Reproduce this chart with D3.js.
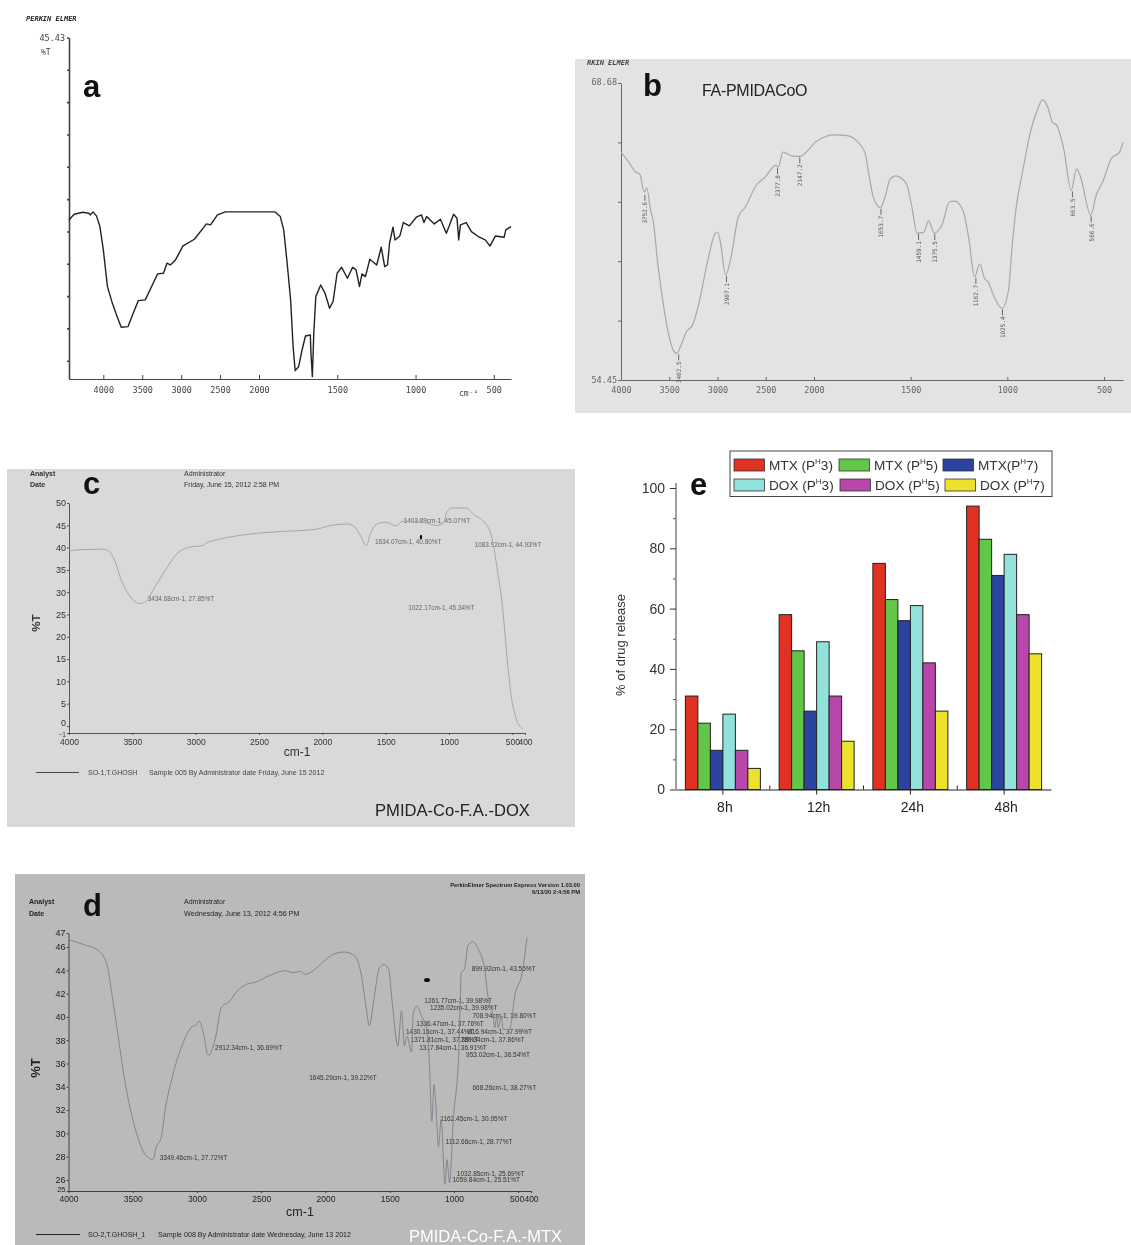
<!DOCTYPE html>
<html>
<head>
<meta charset="utf-8">
<title>FTIR spectra and drug release</title>
<script src="https://cdn.jsdelivr.net/npm/d3@7"></script>
<style>
    html, body { margin: 0; padding: 0; background: #fff; }
    svg { display: block; font-family: "Liberation Sans", Arial, sans-serif; }
    .dot-font text { font-family: "DejaVu Sans Mono", monospace; }
</style>
</head>
<body>
<div id="chart"></div>
<script>
// Panel a: FTIR spectrum
const aWave = [4441,4375,4265,4185,4168,4132,4088,4044,4000,3947,3890,3823,3770,3682,3625,3550,3461,3360,3302,3227,3183,3139,3073,2976,2830,2675,2623,2534,2433,1897,1864,1842,1820,1798,1782,1769,1747,1725,1703,1672,1668,1659,1650,1637,1606,1578,1549,1527,1501,1472,1435,1402,1380,1358,1342,1320,1292,1248,1219,1197,1179,1166,1144,1131,1100,1078,1039,995,962,946,929,880,841,803,786,757,735,724,713,676,643,599,555,524,489,434,423,390];
const aT = [21.16,21.92,22.19,22.05,21.83,22.23,21.70,20.28,17.17,12.29,10.29,8.30,6.88,6.97,8.52,10.43,10.52,12.73,13.98,14.07,15.40,15.17,15.84,17.70,18.59,20.63,20.50,21.83,22.23,22.23,21.61,19.83,15.40,10.52,4.30,1.11,1.64,3.86,5.72,5.86,3.42,0.31,6.08,10.96,12.51,11.40,9.41,10.29,14.07,14.86,13.40,14.86,14.51,12.29,13.98,13.62,15.93,15.17,17.53,14.95,15.17,18.06,20.19,18.50,19.03,20.81,20.37,21.52,21.83,20.81,21.61,20.63,21.25,19.39,20.28,21.92,21.39,18.50,20.50,20.81,19.61,18.95,18.50,17.70,19.03,18.86,19.83,20.28];

// Panel b: FA-PMIDA-Co-O spectrum
const bWave = [4000,3952,3896,3859,3804,3759,3733,3693,3667,3619,3563,3508,3459,3422,3378,3322,3259,3193,3100,3026,3000,2970,2915,2859,2785,2711,2600,2507,2396,2370,2322,2230,2148,2063,1994,1948,1902,1828,1781,1735,1717,1693,1656,1633,1606,1578,1522,1494,1467,1433,1407,1378,1337,1300,1272,1230,1198,1170,1143,1118,1100,1068,1028,994,976,954,920,883,846,818,791,767,744,707,670,642,624,568,541,504,463,420,402];
const bT = [65.37,65.09,64.73,64.46,64.30,63.45,63.66,62.58,62.10,60.03,58.12,56.68,55.88,55.72,56.12,56.76,57.08,58.12,60.19,61.46,61.54,61.06,59.47,60.35,62.26,62.74,63.77,64.17,64.73,64.65,65.37,65.19,65.16,65.45,65.84,66.08,66.19,66.16,65.92,65.29,64.33,63.21,62.70,63.21,64.09,64.23,63.85,62.74,61.49,61.52,62.07,61.49,61.91,62.98,63.02,62.58,61.14,59.39,60.00,59.31,59.15,58.43,57.88,58.75,60.82,62.74,64.49,66.24,67.36,67.87,67.52,66.80,66.64,65.45,63.53,64.57,64.25,62.34,63.29,64.01,65.05,65.37,65.84];
const bPeakWave = [3752.6,3402.5,2907.1,2377.8,2147.2,1653.7,1459.1,1375.5,1162.7,1025.4,663.5,566.6];
const bPeakT = [63.37,55.72,59.47,64.65,65.16,62.70,61.49,61.49,59.39,57.88,63.53,62.34];

// Panel c: PMIDA-Co-F.A.-DOX spectrum
const cWave = [4000,3875,3729,3685,3641,3583,3525,3481,3437,3393,3335,3247,3145,3058,2947,2912,2824,2737,2562,2329,2066,1920,1803,1745,1701,1652,1620,1570,1497,1418,1366,1249,1103,1045,1016,972,870,797,724,666,622,578,535,505,476,418];
const cT = [39.29,39.58,39.66,39.21,37.20,32.37,29.39,27.90,27.46,27.90,30.51,34.60,38.69,40.03,40.48,41.07,41.82,42.34,43.08,43.60,44.05,45.01,45.31,44.64,42.78,40.48,43.15,45.24,45.68,44.87,45.91,45.91,45.01,45.39,47.99,48.88,48.88,47.25,45.76,42.78,35.71,26.79,13.39,5.95,2.23,-0.45];
const cLabels = ["3434.68cm-1, 27.85%T","1634.07cm-1, 40.80%T","1403.89cm-1, 45.07%T","1083.92cm-1, 44.93%T","1022.17cm-1, 45.34%T"];
const cLabelWave = [3379,1585,1357,797,1322];
const cLabelT = [28.42,41.15,45.91,40.55,26.56];

// Panel d: PMIDA-Co-F.A.-MTX spectrum
const dWave = [4000,3879,3764,3701,3664,3621,3563,3506,3463,3419,3376,3342,3319,3276,3247,3190,3118,3046,3003,2983,2954,2911,2859,2810,2744,2687,2615,2543,2414,2313,2255,2198,2155,2083,2011,1939,1853,1767,1724,1681,1658,1623,1580,1543,1508,1480,1436,1408,1385,1365,1330,1316,1284,1264,1206,1192,1172,1155,1143,1120,1100,1069,1054,1034,1005,962,942,919,890,856,810,761,732,695,683,666,655,632,617,568,522,474,431];
const dT = [46.52,46.17,45.66,44.51,42.07,38.92,34.62,31.47,29.75,28.46,27.89,27.75,28.75,29.75,32.05,34.91,37.49,39.07,39.35,39.64,38.78,36.69,38.06,40.79,41.36,42.22,42.79,42.99,43.65,43.97,43.79,43.91,43.65,44.08,44.80,45.37,45.57,45.17,43.79,40.64,39.21,41.50,44.22,44.51,44.08,41.21,37.49,40.50,37.49,38.35,36.97,40.36,40.93,40.36,38.64,36.34,31.04,34.19,32.90,28.89,31.19,25.60,27.75,25.74,31.19,36.92,43.79,44.08,46.09,46.37,45.80,44.08,41.50,40.07,39.07,40.07,39.07,40.07,38.92,38.92,42.07,43.51,46.66];
const dLabels = ["3349.46cm-1, 27.72%T","2912.34cm-1, 36.69%T","1645.29cm-1, 39.22%T","1261.77cm-1, 39.98%T","1235.02cm-1, 39.98%T","708.94cm-1, 39.80%T","1336.47cm-1, 37.76%T","1430.15cm-1, 37.44%T","816.94cm-1, 37.99%T","1371.81cm-1, 37.35%T","780.34cm-1, 37.86%T","1317.84cm-1, 36.91%T","953.02cm-1, 36.54%T","668.26cm-1, 38.27%T","1162.45cm-1, 30.95%T","1112.66cm-1, 28.77%T","1032.85cm-1, 25.69%T","1059.84cm-1, 25.51%T","899.92cm-1, 43.55%T"];
const dLabelWave = [3290,2859,2126,1230,1186,856,1293,1373,890,1336,948,1270,905,856,1106,1063,977,1011,862];
const dLabelT = [27.86,37.32,34.77,41.36,40.73,40.07,39.38,38.69,38.69,38.06,38.06,37.35,36.69,33.91,31.24,29.24,26.52,25.97,44.08];

// Panel e: drug release
const hours = ["8h","12h","24h","48h"];
const seriesStart = ["MTX (P","MTX (P","MTX(P","DOX (P","DOX (P","DOX (P"];
const seriesEnd = ["3)","5)","7)","3)","5)","7)"];
const seriesColors = ["#e03222","#62c748","#2c449f","#92e1da","#b748aa","#ece22e"];
const mtx3 = [31,58,75,94];
const mtx5 = [22,46,63,83];
const mtx7 = [13,26,56,71];
const dox3 = [25,49,61,78];
const dox5 = [13,31,42,58];
const dox7 = [7,16,26,45];
const releaseSeries = [mtx3,mtx5,mtx7,dox3,dox5,dox7];

const svg = d3.select("#chart").append("svg")
    .attr("width", 1131)
    .attr("height", 1245);

svg.append("rect").attr("width", 1131).attr("height", 1245).attr("fill", "#fff");

// The spectra are scans, so they get a little blur
svg.append("defs").append("filter").attr("id", "scan")
    .attr("x", "-2%").attr("y", "-2%").attr("width", "104%").attr("height", "104%")
    .append("feGaussianBlur").attr("stdDeviation", 0.45);

const scan = svg.append("g").attr("filter", "url(#scan)");

function putText(parent, x, y, str, size, opts = {}) {
    return parent.append("text")
        .attr("x", x)
        .attr("y", y)
        .attr("font-size", size)
        .attr("fill", opts.fill || "#222")
        .attr("font-weight", opts.weight || "normal")
        .attr("text-anchor", opts.anchor || "start")
        .attr("transform", opts.rotate ? `rotate(${opts.rotate} ${x} ${y})` : null)
        .text(str);
}

function drawTrace(parent, x, y, waves, values, color, width, curve) {
    const line = d3.line()
        .x((d, i) => x(waves[i]))
        .y(d => y(d))
        .curve(curve);
    parent.append("path")
        .attr("d", line(values))
        .attr("fill", "none")
        .attr("stroke", color)
        .attr("stroke-width", width)
        .attr("stroke-linejoin", "round");
}

function styleAxis(g, color, width) {
    g.selectAll("path, line").attr("stroke", color).attr("stroke-width", width);
    g.selectAll("text").attr("fill", color);
    g.attr("font-family", null);
}

// ---------- Panel a ----------
function drawA() {
    const g = scan.append("g").attr("class", "dot-font");
    const x = d3.scaleLinear().domain([4441, 2000, 390]).range([69, 259, 511]);
    const y = d3.scaleLinear().domain([0, 45.43]).range([379, 37.5]);

    const xAxis = d3.axisBottom(x).tickValues([4000,3500,3000,2500,2000,1500,1000,500])
        .tickSizeInner(-4).tickSizeOuter(0).tickPadding(8).tickFormat(d3.format("d"));
    const xg = g.append("g").attr("transform", "translate(0,379)").call(xAxis).attr("font-size", 8.5);
    styleAxis(xg, "#444", 1);

    const yAxis = d3.axisLeft(y).tickValues(d3.range(45.43, 0, -4.3))
        .tickSize(2).tickSizeOuter(0).tickPadding(2).tickFormat(d => d === 45.43 ? "45.43" : "");
    const yg = g.append("g").attr("transform", "translate(69,0)").call(yAxis).attr("font-size", 8.5);
    styleAxis(yg, "#444", 1.6);

    putText(g, 459, 396, "cm⁻¹", 8, { fill: "#444" });
    putText(g, 41, 55, "%T", 8, { fill: "#444" });
    putText(g, 26, 21, "PERKIN ELMER", 7, { weight: "bold" }).attr("font-style", "italic");

    drawTrace(g, x, y, aWave, aT, "#222", 1.4, d3.curveLinear);
}

// ---------- Panel b ----------
function drawB() {
    const g = scan.append("g").attr("class", "dot-font");
    g.append("rect").attr("x", 575).attr("y", 59).attr("width", 556).attr("height", 354).attr("fill", "#e3e3e3");

    const x = d3.scaleLinear().domain([4000, 2000, 402]).range([621, 814, 1123]);
    const y = d3.scaleLinear().domain([54.45, 68.68]).range([380, 83]);

    const xAxis = d3.axisBottom(x).tickValues([4000,3500,3000,2500,2000,1500,1000,500])
        .tickSizeInner(-3).tickSizeOuter(0).tickPadding(7).tickFormat(d3.format("d"));
    const xg = g.append("g").attr("transform", "translate(0,380)").call(xAxis).attr("font-size", 8.5);
    styleAxis(xg, "#666", 1);

    const yAxis = d3.axisLeft(y).tickValues(d3.range(0, 6).map(i => 54.45 + i * 2.846))
        .tickSize(3).tickSizeOuter(0).tickPadding(1)
        .tickFormat(d => d === 54.45 ? "54.45" : "");
    const yg = g.append("g").attr("transform", "translate(621,0)").call(yAxis).attr("font-size", 8.5);
    styleAxis(yg, "#666", 1);
    putText(g, 617, 85, "68.68", 8.5, { fill: "#666", anchor: "end" });
    putText(g, 587, 65, "RKIN ELMER", 7, { weight: "bold", fill: "#444" }).attr("font-style", "italic");

    drawTrace(g, x, y, bWave, bT, "#a8a8a8", 1.2, d3.curveMonotoneX);

    // Peak picks: short tick under the trough, then the value rotated
    bPeakWave.forEach((w, i) => {
        const px = x(w), py = y(bPeakT[i]);
        g.append("line").attr("x1", px).attr("x2", px).attr("y1", py + 1).attr("y2", py + 7)
            .attr("stroke", "#666");
        putText(g, px + 2.5, py + 8, d3.format(".1f")(w), 6, { fill: "#555", anchor: "end", rotate: -90 });
    });
}

// ---------- Panel c ----------
function drawC() {
    const g = scan.append("g");
    g.append("rect").attr("x", 7).attr("y", 469).attr("width", 568).attr("height", 358).attr("fill", "#d9d9d9");

    const x = d3.scaleLinear().domain([4000, 400]).range([69, 525]);
    const y = d3.scaleLinear().domain([-1, 0, 50]).range([733, 726, 503]);

    const xAxis = d3.axisBottom(x).tickValues([4000,3500,3000,2500,2000,1500,1000,500,400])
        .tickSize(2).tickSizeOuter(0).tickPadding(3.5).tickFormat(d3.format("d"));
    const xg = g.append("g").attr("transform", "translate(0,733)").call(xAxis).attr("font-size", 8.5);
    styleAxis(xg, "#333", 0.8);

    const yAxis = d3.axisLeft(y).tickValues([-1,0,5,10,15,20,25,30,35,40,45,50])
        .tickSize(2).tickSizeOuter(0).tickPadding(1).tickFormat(d3.format("d"));
    const yg = g.append("g").attr("transform", "translate(69,0)").call(yAxis).attr("font-size", 9);
    styleAxis(yg, "#333", 0.8);
    // the 0 and -1 labels are tight, as on the printout
    yg.selectAll(".tick text").filter(d => d === 0).attr("dy", "-0.1em");
    yg.selectAll(".tick text").filter(d => d === -1).attr("font-size", 6.5).attr("dy", "0.5em");

    putText(g, 30, 476, "Analyst", 7, { weight: "bold", fill: "#333" });
    putText(g, 30, 487, "Date", 7, { weight: "bold", fill: "#333" });
    putText(g, 184, 476, "Administrator", 7, { fill: "#333" });
    putText(g, 184, 487, "Friday, June 15, 2012 2:58 PM", 7, { fill: "#333" });
    putText(g, 40, 623, "%T", 11.5, { weight: "bold", anchor: "middle", rotate: -90, fill: "#333" });
    putText(g, 297, 756, "cm-1", 12, { anchor: "middle", fill: "#333" });

    g.append("line").attr("x1", 36).attr("x2", 79).attr("y1", 772.5).attr("y2", 772.5)
        .attr("stroke", "#444").attr("stroke-width", 1.2);
    putText(g, 88, 775, "SO-1,T.GHOSH", 7, { fill: "#444" });
    putText(g, 149, 775, "Sample 005 By Administrator date Friday, June 15 2012", 7.1, { fill: "#444" });

    cLabels.forEach((t, i) => {
        putText(g, x(cLabelWave[i]), y(cLabelT[i]) + 2, t, 6.4, { fill: "#666" });
    });
    g.append("ellipse").attr("cx", 421).attr("cy", 537).attr("rx", 1.2).attr("ry", 2.2).attr("fill", "#111");

    drawTrace(g, x, y, cWave, cT, "#a2a8a8", 1, d3.curveMonotoneX);
}

// ---------- Panel d ----------
function drawD() {
    const g = scan.append("g");
    g.append("rect").attr("x", 15).attr("y", 874).attr("width", 570).attr("height", 371).attr("fill", "#b9bbb9");

    const x = d3.scaleLinear().domain([4000, 400]).range([68.5, 531]);
    const y = d3.scaleLinear().domain([25, 26, 46, 47]).range([1191, 1180, 947, 933]);

    const xAxis = d3.axisBottom(x).tickValues([4000,3500,3000,2500,2000,1500,1000,500,400])
        .tickSize(2).tickSizeOuter(0).tickPadding(3).tickFormat(d3.format("d"));
    const xg = g.append("g").attr("transform", "translate(0,1191)").call(xAxis).attr("font-size", 8.5);
    styleAxis(xg, "#222", 0.8);
    xg.selectAll(".tick text").filter(d => d === 500).attr("dx", -1.5);

    const yAxis = d3.axisLeft(y).tickValues([25,26,28,30,32,34,36,38,40,42,44,46,47])
        .tickSize(2).tickSizeOuter(0).tickPadding(1).tickFormat(d3.format("d"));
    const yg = g.append("g").attr("transform", "translate(68.5,0)").call(yAxis).attr("font-size", 9);
    styleAxis(yg, "#222", 0.8);
    yg.selectAll(".tick text").filter(d => d === 25).attr("font-size", 7.5).attr("dy", "0.1em");

    putText(g, 29, 904, "Analyst", 7, { weight: "bold" });
    putText(g, 29, 916, "Date", 7, { weight: "bold" });
    putText(g, 184, 904, "Administrator", 7);
    putText(g, 184, 916, "Wednesday, June 13, 2012 4:56 PM", 7.2);
    putText(g, 580, 887, "PerkinElmer Spectrum Express Version 1.03.00", 5.8, { anchor: "end", weight: "bold" });
    putText(g, 580, 894, "6/13/20 2:4:56 PM", 5.8, { anchor: "end", weight: "bold" });
    putText(g, 40, 1068, "%T", 13, { weight: "bold", anchor: "middle", rotate: -90 });
    putText(g, 300, 1216, "cm-1", 12.5, { anchor: "middle" });

    g.append("line").attr("x1", 36).attr("x2", 80).attr("y1", 1234.5).attr("y2", 1234.5)
        .attr("stroke", "#222").attr("stroke-width", 1.2);
    putText(g, 88, 1237, "SO-2,T.GHOSH_1", 7);
    putText(g, 158, 1237, "Sample 008 By Administrator date Wednesday, June 13 2012", 7.1);

    dLabels.forEach((t, i) => {
        putText(g, x(dLabelWave[i]), y(dLabelT[i]) + 2, t, 6.5, { fill: "#333" });
    });
    g.append("ellipse").attr("cx", 427).attr("cy", 980).attr("rx", 3).attr("ry", 2).attr("fill", "#111");

    drawTrace(g, x, y, dWave, dT, "#84848f", 1, d3.curveMonotoneX);
}

// ---------- Panel e ----------
function drawE() {
    const g = svg.append("g");
    const x = d3.scaleBand().domain(hours).range([676, 1051]).paddingInner(0.2).paddingOuter(0.1);
    const inner = d3.scaleBand().domain(d3.range(6)).range([0, x.bandwidth()]);
    const y = d3.scaleLinear().domain([0, 100]).range([789.5, 488]);

    releaseSeries.forEach((vals, s) => {
        g.append("g").selectAll("rect")
            .data(vals)
            .join("rect")
            .attr("x", (d, i) => x(hours[i]) + inner(s))
            .attr("y", d => y(d))
            .attr("width", inner.bandwidth())
            .attr("height", d => y(0) - y(d))
            .attr("fill", seriesColors[s])
            .attr("stroke", "#222")
            .attr("stroke-width", 1);
    });

    // y axis with minor ticks every 10
    const yMinor = d3.axisLeft(y).tickValues(d3.range(10, 100, 20)).tickSize(3).tickSizeOuter(0).tickFormat("");
    const yMajor = d3.axisLeft(y).tickValues(d3.range(0, 101, 20)).tickSize(6).tickSizeOuter(0).tickPadding(5);
    const ym = g.append("g").attr("transform", "translate(676,0)").call(yMinor);
    const yg = g.append("g").attr("transform", "translate(676,0)").call(yMajor).attr("font-size", 14);
    styleAxis(ym, "#555", 1);
    styleAxis(yg, "#333", 1);
    yg.select(".domain").attr("d", "M0,789.5V483").attr("stroke", "#777").attr("stroke-width", 1.4);
    ym.select(".domain").remove();

    // x axis: long tick down at the group centre, short tick up between groups
    const xAxis = d3.axisBottom(x).tickSize(5).tickSizeOuter(0).tickPadding(8);
    const xg = g.append("g").attr("transform", "translate(0,789.5)").call(xAxis).attr("font-size", 14);
    styleAxis(xg, "#222", 1);
    xg.selectAll("text").attr("dx", 2);
    xg.select(".domain").attr("stroke", "#222");
    xg.append("g").selectAll("line")
        .data(hours.slice(1))
        .join("line")
        .attr("x1", d => x(d) - x.step() * 0.1)
        .attr("x2", d => x(d) - x.step() * 0.1)
        .attr("y1", 0)
        .attr("y2", -4)
        .attr("stroke", "#222");

    putText(g, 625, 645, "% of drug release", 13, { anchor: "middle", rotate: -90, fill: "#333" });

    // legend
    g.append("rect").attr("x", 730).attr("y", 451).attr("width", 322).attr("height", 45.5)
        .attr("fill", "#fff").attr("stroke", "#444").attr("stroke-width", 1);
    const swatchX = [734, 839, 943, 734, 840, 945];
    swatchX.forEach((sx, s) => {
        const top = s < 3 ? 459 : 479;
        g.append("rect").attr("x", sx).attr("y", top).attr("width", 30.5).attr("height", 12)
            .attr("fill", seriesColors[s]).attr("stroke", "#333").attr("stroke-width", 0.8);
        const t = putText(g, sx + 35, top + 10.5, null, 13.6, { fill: "#333" });
        t.append("tspan").text(seriesStart[s]);
        t.append("tspan").attr("dy", -5.5).attr("font-size", 8).text("H");
        t.append("tspan").attr("dy", 5.5).text(seriesEnd[s]);
    });
}

drawA();
drawB();
drawC();
drawD();
drawE();

// Panel letters and sample names sit on top of the scans
[["a", 83, 97], ["b", 643, 96], ["c", 83, 494], ["d", 83, 916], ["e", 690, 495]].forEach(l => {
    putText(svg, l[1], l[2], l[0], 31, { weight: "bold", fill: "#111" });
});
putText(svg, 702, 96, "FA-PMIDACoO", 16, { fill: "#222" }).attr("letter-spacing", -0.3);
putText(svg, 375, 816, "PMIDA-Co-F.A.-DOX", 16.6, { fill: "#222" });
putText(svg, 409, 1242, "PMIDA-Co-F.A.-MTX", 16.5, { fill: "#fff" });
</script>
</body>
</html>
